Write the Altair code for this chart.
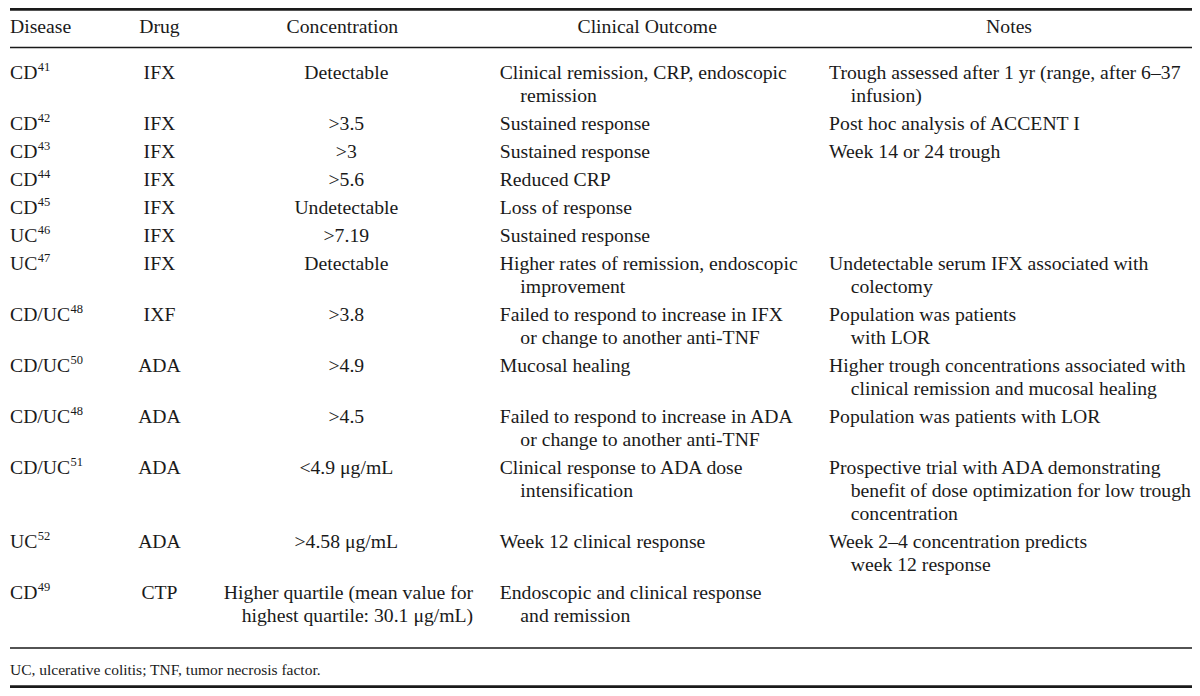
import altair as alt
import pandas as pd

# ---------------- data ----------------
headers = ["Disease", "Drug", "Concentration", "Clinical Outcome", "Notes"]

diseases = ["CD", "CD", "CD", "CD", "CD", "UC", "UC", "CD/UC", "CD/UC", "CD/UC", "CD/UC", "UC", "CD"]
refs = ["41", "42", "43", "44", "45", "46", "47", "48", "50", "48", "51", "52", "49"]
drugs = ["IFX", "IFX", "IFX", "IFX", "IFX", "IFX", "IFX", "IXF", "ADA", "ADA", "ADA", "ADA", "CTP"]
concentrations = [
    ["Detectable"], [">3.5"], [">3"], [">5.6"], ["Undetectable"], [">7.19"], ["Detectable"],
    [">3.8"], [">4.9"], [">4.5"], ["<4.9 \u03bcg/mL"], [">4.58 \u03bcg/mL"],
    ["Higher quartile (mean value for", "highest quartile: 30.1 \u03bcg/mL)"],
]
outcomes = [
    ["Clinical remission, CRP, endoscopic", "remission"],
    ["Sustained response"],
    ["Sustained response"],
    ["Reduced CRP"],
    ["Loss of response"],
    ["Sustained response"],
    ["Higher rates of remission, endoscopic", "improvement"],
    ["Failed to respond to increase in IFX", "or change to another anti-TNF"],
    ["Mucosal healing"],
    ["Failed to respond to increase in ADA", "or change to another anti-TNF"],
    ["Clinical response to ADA dose", "intensification"],
    ["Week 12 clinical response"],
    ["Endoscopic and clinical response", "and remission"],
]
notes = [
    ["Trough assessed after 1 yr (range, after 6\u201337", "infusion)"],
    ["Post hoc analysis of ACCENT I"],
    ["Week 14 or 24 trough"],
    [], [], [],
    ["Undetectable serum IFX associated with", "colectomy"],
    ["Population was patients", "with LOR"],
    ["Higher trough concentrations associated with", "clinical remission and mucosal healing"],
    ["Population was patients with LOR"],
    ["Prospective trial with ADA demonstrating", "benefit of dose optimization for low trough", "concentration"],
    ["Week 2\u20134 concentration predicts", "week 12 response"],
    [],
]
footnote = "UC, ulcerative colitis; TNF, tumor necrosis factor."

# ---------------- layout ----------------
W_REF = 1200
PW, PH = 1184, 680
Y_TOP, Y_BOT = 8, 688          # reference rows shown 1:1 on the page
FONT = "Liberation Serif"
COLOR = "#1a1a1a"
FS = 19.7
SUP_FS = 12.5
FOOT_FS = 15.5
LINE_H = 23
ROW_GAP = 5
Y0 = 73
HEADER_Y = 27

X_DIS = 0
X_DRUG = 152
X_CONC = 342
X_CONC_R = 471
X_OUT = 498
X_OUT_IND = 519
X_NOTES = 833
X_NOTES_IND = 855
HEAD_X = [0, 152, 338, 648, 1016]
HEAD_AL = ["left", "center", "center", "center", "center"]

GLYPH_W = {"C": 667, "D": 722, "U": 722, "/": 278}
XSCALE = PW / W_REF


def text_w(s, fs):
    return sum(GLYPH_W[c] for c in s) * fs / 1000.0


items = []
for h, hx, ha in zip(headers, HEAD_X, HEAD_AL):
    items.append(dict(x=hx, y=HEADER_Y, text=h, align=ha, size=FS))

y = Y0
for i in range(len(diseases)):
    n = max(len(concentrations[i]), len(outcomes[i]), len(notes[i]), 1)
    items.append(dict(x=X_DIS, y=y, text=diseases[i], align="left", size=FS))
    sx = X_DIS + text_w(diseases[i], FS) / XSCALE + 0.5
    items.append(dict(x=sx, y=y - 6.5, text=refs[i], align="left", size=SUP_FS))
    items.append(dict(x=X_DRUG, y=y, text=drugs[i], align="center", size=FS))
    conc = concentrations[i]
    for k, t in enumerate(conc):
        if len(conc) == 1:
            items.append(dict(x=X_CONC, y=y, text=t, align="center", size=FS))
        else:
            items.append(dict(x=X_CONC_R, y=y + k * LINE_H, text=t, align="right", size=FS))
    for k, t in enumerate(outcomes[i]):
        items.append(dict(x=X_OUT if k == 0 else X_OUT_IND, y=y + k * LINE_H, text=t, align="left", size=FS))
    for k, t in enumerate(notes[i]):
        items.append(dict(x=X_NOTES if k == 0 else X_NOTES_IND, y=y + k * LINE_H, text=t, align="left", size=FS))
    y += n * LINE_H + ROW_GAP

items.append(dict(x=0, y=670, text=footnote, align="left", size=FOOT_FS))
df = pd.DataFrame(items)

rules = pd.DataFrame({"y": [9.4, 47.5, 648, 686.6], "sw": [2.6, 1.4, 1.4, 2.6]})

xs = alt.Scale(domain=[0, W_REF], nice=False, zero=False)
ys = alt.Scale(domain=[Y_TOP, Y_BOT], reverse=True, nice=False, zero=False)


def text_layer(al):
    return (
        alt.Chart(df)
        .transform_filter(alt.datum.align == al)
        .mark_text(align=al, baseline="middle", font=FONT, color=COLOR)
        .encode(
            x=alt.X("x:Q", scale=xs, axis=None),
            y=alt.Y("y:Q", scale=ys, axis=None),
            text="text:N",
            size=alt.Size("size:Q", scale=None, legend=None),
        )
    )


rule_layer = (
    alt.Chart(rules)
    .mark_rule(color=COLOR)
    .encode(
        x=alt.value(0),
        x2=alt.value(PW),
        y=alt.Y("y:Q", scale=ys, axis=None),
        strokeWidth=alt.StrokeWidth("sw:Q", scale=None, legend=None),
    )
)

chart = (
    alt.layer(rule_layer, text_layer("left"), text_layer("center"), text_layer("right"))
    .properties(width=PW, height=PH, padding=0,
                autosize=alt.AutoSizeParams(type="fit", contains="padding"),
                background="white")
    .configure_view(stroke=None)
)

chart.save("out.html", embed_options={"renderer": "svg", "actions": False})
